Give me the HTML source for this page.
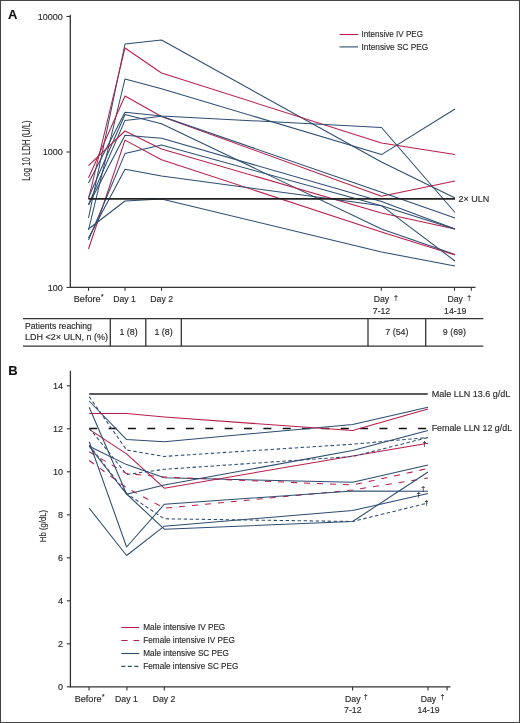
<!DOCTYPE html>
<html><head><meta charset="utf-8"><style>
html,body{margin:0;padding:0;background:#fff;}
svg{display:block;will-change:transform;}
text{font-family:"Liberation Sans",sans-serif;stroke:#2a2a2a;stroke-width:0.15px;}
</style></head><body>
<svg width="520" height="723" viewBox="0 0 520 723">
<rect x="0.5" y="0.5" width="519" height="722" fill="#fff" stroke="#444" stroke-width="1"/>
<text x="8" y="18.8" font-family="Liberation Sans, sans-serif" font-size="13" font-weight="bold" fill="#111" stroke="#111" stroke-width="0.5">A</text>
<path d="M70.3,14.8 V287.4 H475.5" fill="none" stroke="#333" stroke-width="1.3"/>
<path d="M66.5,16.5 H70" stroke="#333" stroke-width="1.1"/>
<text x="62.8" y="19.7" font-family="Liberation Sans, sans-serif" font-size="9" fill="#2a2a2a" text-anchor="end">10000</text>
<path d="M66.5,152 H70" stroke="#333" stroke-width="1.1"/>
<text x="62.8" y="155.2" font-family="Liberation Sans, sans-serif" font-size="9" fill="#2a2a2a" text-anchor="end">1000</text>
<path d="M66.5,287.4 H70" stroke="#333" stroke-width="1.1"/>
<text x="62.8" y="290.6" font-family="Liberation Sans, sans-serif" font-size="9" fill="#2a2a2a" text-anchor="end">100</text>
<path d="M88.5,287.4 V290.8" stroke="#333" stroke-width="1.1"/>
<path d="M125,287.4 V290.8" stroke="#333" stroke-width="1.1"/>
<path d="M161.5,287.4 V290.8" stroke="#333" stroke-width="1.1"/>
<path d="M381.3,287.4 V290.8" stroke="#333" stroke-width="1.1"/>
<path d="M454.5,287.4 V290.8" stroke="#333" stroke-width="1.1"/>
<path d="M471.3,287.4 V290.8" stroke="#333" stroke-width="1.1"/>
<text transform="translate(30,150.6) rotate(-90)" font-family="Liberation Sans, sans-serif" font-size="10" fill="#2a2a2a" text-anchor="middle" textLength="60.3" lengthAdjust="spacingAndGlyphs">Log 10 LDH (U/L)</text>
<text x="73.8" y="302.4" font-family="Liberation Sans, sans-serif" font-size="9.1" fill="#2a2a2a">Before<tspan font-size="6.5" dx="0.4" dy="-3">*</tspan></text>
<text x="124.5" y="302.3" font-family="Liberation Sans, sans-serif" font-size="8.7" fill="#2a2a2a" text-anchor="middle">Day 1</text>
<text x="161.7" y="302.3" font-family="Liberation Sans, sans-serif" font-size="8.7" fill="#2a2a2a" text-anchor="middle">Day 2</text>
<text x="381.5" y="302.4" font-family="Liberation Sans, sans-serif" font-size="8.7" fill="#2a2a2a" text-anchor="middle">Day</text>
<text x="381.5" y="313.7" font-family="Liberation Sans, sans-serif" font-size="8.7" fill="#2a2a2a" text-anchor="middle">7-12</text>
<text x="396" y="300" font-family="Liberation Sans, sans-serif" font-size="7" fill="#2a2a2a" text-anchor="middle">†</text>
<text x="455.2" y="302.4" font-family="Liberation Sans, sans-serif" font-size="8.7" fill="#2a2a2a" text-anchor="middle">Day</text>
<text x="455.2" y="313.7" font-family="Liberation Sans, sans-serif" font-size="8.7" fill="#2a2a2a" text-anchor="middle">14-19</text>
<text x="469.3" y="300" font-family="Liberation Sans, sans-serif" font-size="7" fill="#2a2a2a" text-anchor="middle">†</text>
<polyline points="88.5,218 125,44 161.5,40 381.5,162 455,198" fill="none" stroke="#2c4c72" stroke-width="1.05" stroke-linejoin="round"/>
<polyline points="88.5,199 125,48 161.5,73 381.5,143 455,154.5" fill="none" stroke="#b81e4a" stroke-width="1.05" stroke-linejoin="round"/>
<polyline points="88.5,230 125,79 161.5,88.7 381.5,154.6 455,109" fill="none" stroke="#2c4c72" stroke-width="1.05" stroke-linejoin="round"/>
<polyline points="88.5,178 125,96 161.5,116.5 381.5,196.3 455,181" fill="none" stroke="#b81e4a" stroke-width="1.05" stroke-linejoin="round"/>
<polyline points="88.5,183 125,112.3 161.5,116 381.5,127.5 455,212.5" fill="none" stroke="#2c4c72" stroke-width="1.05" stroke-linejoin="round"/>
<polyline points="88.5,204.5 125,120.4 161.5,116.3 381.5,192.2 455,218" fill="none" stroke="#2c4c72" stroke-width="1.05" stroke-linejoin="round"/>
<polyline points="88.5,197.5 125,114.5 161.5,123.7 381.5,229 455,254.5" fill="none" stroke="#2c4c72" stroke-width="1.05" stroke-linejoin="round"/>
<polyline points="88.5,165.7 125,131 161.5,149 381.5,213 455,229" fill="none" stroke="#b81e4a" stroke-width="1.05" stroke-linejoin="round"/>
<polyline points="88.5,205 125,135.3 161.5,138.2 381.5,201.5 455,229" fill="none" stroke="#2c4c72" stroke-width="1.05" stroke-linejoin="round"/>
<polyline points="88.5,249 125,140.1 161.5,159.8 381.5,232 455,255" fill="none" stroke="#b81e4a" stroke-width="1.05" stroke-linejoin="round"/>
<polyline points="88.5,240 125,153.6 161.5,144.9 381.5,205.7 455,261" fill="none" stroke="#2c4c72" stroke-width="1.05" stroke-linejoin="round"/>
<polyline points="88.5,238 125,169.3 161.5,176 381.5,205.7 455,229" fill="none" stroke="#2c4c72" stroke-width="1.05" stroke-linejoin="round"/>
<polyline points="88.5,229 125,201 161.5,199 381.5,252 455,266" fill="none" stroke="#2c4c72" stroke-width="1.05" stroke-linejoin="round"/>
<path d="M88.5,198.8 H455" stroke="#222" stroke-width="1.7"/>
<text x="458.6" y="201.7" font-family="Liberation Sans, sans-serif" font-size="9" fill="#2a2a2a">2× ULN</text>
<path d="M339.5,34.5 H358" stroke="#b81e4a" stroke-width="1.1"/>
<path d="M339.5,46.9 H358" stroke="#2c4c72" stroke-width="1.1"/>
<text x="361.5" y="37" font-family="Liberation Sans, sans-serif" font-size="8.7" fill="#2a2a2a" textLength="61.5" lengthAdjust="spacingAndGlyphs">Intensive IV PEG</text>
<text x="361.5" y="49.6" font-family="Liberation Sans, sans-serif" font-size="8.7" fill="#2a2a2a" textLength="66.8" lengthAdjust="spacingAndGlyphs">Intensive SC PEG</text>
<path d="M23,318.6 H483.3 M23,346.2 H483.3" stroke="#333" stroke-width="1.3"/>
<path d="M110.3,318.6 V346.2" stroke="#333" stroke-width="1.3"/>
<path d="M145.8,318.6 V346.2" stroke="#333" stroke-width="1.3"/>
<path d="M181.3,318.6 V346.2" stroke="#333" stroke-width="1.3"/>
<path d="M368,318.6 V346.2" stroke="#333" stroke-width="1.3"/>
<path d="M425.7,318.6 V346.2" stroke="#333" stroke-width="1.3"/>
<text x="25" y="328.9" font-family="Liberation Sans, sans-serif" font-size="9" fill="#2a2a2a" textLength="66.9" lengthAdjust="spacingAndGlyphs">Patients reaching</text>
<text x="25" y="339.5" font-family="Liberation Sans, sans-serif" font-size="9" fill="#2a2a2a" textLength="83" lengthAdjust="spacingAndGlyphs">LDH &lt;2× ULN, n (%)</text>
<text x="128.5" y="335.1" font-family="Liberation Sans, sans-serif" font-size="8.9" fill="#2a2a2a" text-anchor="middle">1 (8)</text>
<text x="163.5" y="335.1" font-family="Liberation Sans, sans-serif" font-size="8.9" fill="#2a2a2a" text-anchor="middle">1 (8)</text>
<text x="396.9" y="335.1" font-family="Liberation Sans, sans-serif" font-size="8.9" fill="#2a2a2a" text-anchor="middle">7 (54)</text>
<text x="454.4" y="335.1" font-family="Liberation Sans, sans-serif" font-size="8.9" fill="#2a2a2a" text-anchor="middle">9 (69)</text>
<text x="8.2" y="375.4" font-family="Liberation Sans, sans-serif" font-size="13" font-weight="bold" fill="#111" stroke="#111" stroke-width="0.5">B</text>
<path d="M70.4,370.8 V686.8 H450.5" fill="none" stroke="#333" stroke-width="1.3"/>
<path d="M66.8,686.8 H70.4" stroke="#333" stroke-width="1.1"/>
<text x="63" y="689.5" font-family="Liberation Sans, sans-serif" font-size="9" fill="#2a2a2a" text-anchor="end">0</text>
<path d="M66.8,643.8 H70.4" stroke="#333" stroke-width="1.1"/>
<text x="63" y="646.5" font-family="Liberation Sans, sans-serif" font-size="9" fill="#2a2a2a" text-anchor="end">2</text>
<path d="M66.8,600.8 H70.4" stroke="#333" stroke-width="1.1"/>
<text x="63" y="603.5" font-family="Liberation Sans, sans-serif" font-size="9" fill="#2a2a2a" text-anchor="end">4</text>
<path d="M66.8,557.8 H70.4" stroke="#333" stroke-width="1.1"/>
<text x="63" y="560.5" font-family="Liberation Sans, sans-serif" font-size="9" fill="#2a2a2a" text-anchor="end">6</text>
<path d="M66.8,514.8 H70.4" stroke="#333" stroke-width="1.1"/>
<text x="63" y="517.5" font-family="Liberation Sans, sans-serif" font-size="9" fill="#2a2a2a" text-anchor="end">8</text>
<path d="M66.8,471.8 H70.4" stroke="#333" stroke-width="1.1"/>
<text x="63" y="474.5" font-family="Liberation Sans, sans-serif" font-size="9" fill="#2a2a2a" text-anchor="end">10</text>
<path d="M66.8,428.8 H70.4" stroke="#333" stroke-width="1.1"/>
<text x="63" y="431.5" font-family="Liberation Sans, sans-serif" font-size="9" fill="#2a2a2a" text-anchor="end">12</text>
<path d="M66.8,385.8 H70.4" stroke="#333" stroke-width="1.1"/>
<text x="63" y="388.5" font-family="Liberation Sans, sans-serif" font-size="9" fill="#2a2a2a" text-anchor="end">14</text>
<path d="M89.1,686.8 V690.5" stroke="#333" stroke-width="1.1"/>
<path d="M126.9,686.8 V690.5" stroke="#333" stroke-width="1.1"/>
<path d="M164.3,686.8 V690.5" stroke="#333" stroke-width="1.1"/>
<path d="M352.6,686.8 V690.5" stroke="#333" stroke-width="1.1"/>
<path d="M428,686.8 V690.5" stroke="#333" stroke-width="1.1"/>
<path d="M447.1,686.8 V690.5" stroke="#333" stroke-width="1.1"/>
<text transform="translate(46,526) rotate(-90)" font-family="Liberation Sans, sans-serif" font-size="9" fill="#2a2a2a" text-anchor="middle" textLength="32.3" lengthAdjust="spacingAndGlyphs">Hb (g/dL)</text>
<text x="74.7" y="701.9" font-family="Liberation Sans, sans-serif" font-size="9.1" fill="#2a2a2a">Before<tspan font-size="6.5" dx="0.4" dy="-3">*</tspan></text>
<text x="126.4" y="701.8" font-family="Liberation Sans, sans-serif" font-size="8.7" fill="#2a2a2a" text-anchor="middle">Day 1</text>
<text x="164" y="701.8" font-family="Liberation Sans, sans-serif" font-size="8.7" fill="#2a2a2a" text-anchor="middle">Day 2</text>
<text x="352.8" y="701.6" font-family="Liberation Sans, sans-serif" font-size="8.7" fill="#2a2a2a" text-anchor="middle">Day</text>
<text x="352.8" y="712.8" font-family="Liberation Sans, sans-serif" font-size="8.7" fill="#2a2a2a" text-anchor="middle">7-12</text>
<text x="365.7" y="699" font-family="Liberation Sans, sans-serif" font-size="7" fill="#2a2a2a" text-anchor="middle">†</text>
<text x="428.5" y="701.6" font-family="Liberation Sans, sans-serif" font-size="8.7" fill="#2a2a2a" text-anchor="middle">Day</text>
<text x="428.5" y="712.8" font-family="Liberation Sans, sans-serif" font-size="8.7" fill="#2a2a2a" text-anchor="middle">14-19</text>
<text x="442.4" y="699" font-family="Liberation Sans, sans-serif" font-size="7" fill="#2a2a2a" text-anchor="middle">†</text>
<path d="M89.2,394.1 H427.7" stroke="#222" stroke-width="1.5"/>
<path d="M89.2,428.5 H427.1" stroke="#111" stroke-width="1.5" stroke-dasharray="8,11.35"/>
<text x="431.7" y="396.7" font-family="Liberation Sans, sans-serif" font-size="9" fill="#2a2a2a">Male LLN 13.6 g/dL</text>
<text x="431.7" y="430.7" font-family="Liberation Sans, sans-serif" font-size="8.9" fill="#2a2a2a">Female LLN 12 g/dL</text>
<polyline points="89.2,401 126.6,439.6 164.3,441.8 352.6,424.4 428,407.2" fill="none" stroke="#2c4c72" stroke-width="1.05" stroke-linejoin="round" />
<polyline points="89.2,396.6 126.6,450 164.3,456.4 352.6,444.2 428,437.5" fill="none" stroke="#2c4c72" stroke-width="1.05" stroke-linejoin="round" stroke-dasharray="3.5,2.5"/>
<polyline points="89.2,429.4 126.6,453.9 164.3,488.2 352.6,455.9 428,443.3" fill="none" stroke="#b81e4a" stroke-width="1.05" stroke-linejoin="round" />
<polyline points="89.2,446.2 126.6,464.6 164.3,477.8 352.6,482.3 428,465" fill="none" stroke="#2c4c72" stroke-width="1.05" stroke-linejoin="round" />
<polyline points="89.2,428 126.6,474.5 164.3,469.3 352.6,456.5 428,437.5" fill="none" stroke="#2c4c72" stroke-width="1.05" stroke-linejoin="round" stroke-dasharray="3.5,2.5"/>
<polyline points="89.2,451.8 126.6,473.6 164.3,477 352.6,485 428,468.5" fill="none" stroke="#b81e4a" stroke-width="1.05" stroke-linejoin="round" stroke-dasharray="6,7"/>
<polyline points="89.2,446.2 126.6,494.3 164.3,485 352.6,450.6 428,430.6" fill="none" stroke="#2c4c72" stroke-width="1.05" stroke-linejoin="round" />
<polyline points="89.2,460.5 126.6,487.8 164.3,508.2 352.6,490 428,478" fill="none" stroke="#b81e4a" stroke-width="1.05" stroke-linejoin="round" stroke-dasharray="6,7"/>
<polyline points="89.2,445 126.6,493.6 164.3,518.8 352.6,521.5 428,503" fill="none" stroke="#2c4c72" stroke-width="1.05" stroke-linejoin="round" stroke-dasharray="3.5,2.5"/>
<polyline points="89.2,441.8 126.6,547 164.3,504.3 352.6,491 428,491.2" fill="none" stroke="#2c4c72" stroke-width="1.05" stroke-linejoin="round" />
<polyline points="89.2,508.2 126.6,555.5 164.3,526.2 352.6,510.5 428,493.4" fill="none" stroke="#2c4c72" stroke-width="1.05" stroke-linejoin="round" />
<polyline points="89.2,407.3 126.6,494 164.3,529.2 352.6,521.5 428,472" fill="none" stroke="#2c4c72" stroke-width="1.05" stroke-linejoin="round" />
<polyline points="89.2,413.5 126.6,413.5 164.3,417 352.6,430.6 428,409" fill="none" stroke="#b81e4a" stroke-width="1.05" stroke-linejoin="round" />
<text x="423.3" y="490.5" font-family="Liberation Sans, sans-serif" font-size="7" fill="#222" text-anchor="middle">†</text>
<text x="418.7" y="497" font-family="Liberation Sans, sans-serif" font-size="7" fill="#222" text-anchor="middle">†</text>
<text x="426.4" y="504.5" font-family="Liberation Sans, sans-serif" font-size="7" fill="#222" text-anchor="middle">†</text>
<text x="424.4" y="445.5" font-family="Liberation Sans, sans-serif" font-size="7" fill="#222" text-anchor="middle">†</text>
<path d="M121.3,627.5 H139.2" stroke="#b81e4a" stroke-width="1.1"/>
<path d="M121.3,640.5 H139.2" stroke="#b81e4a" stroke-width="1.1" stroke-dasharray="6.4,5.8"/>
<path d="M121.3,653.5 H139.2" stroke="#2c4c72" stroke-width="1.1"/>
<path d="M121.3,666.4 H139.2" stroke="#2c4c72" stroke-width="1.1" stroke-dasharray="4,2.5"/>
<text x="143.3" y="630.1" font-family="Liberation Sans, sans-serif" font-size="8.2" fill="#2a2a2a">Male intensive IV PEG</text>
<text x="143.3" y="643.1" font-family="Liberation Sans, sans-serif" font-size="8.2" fill="#2a2a2a">Female intensive IV PEG</text>
<text x="143.3" y="656.1" font-family="Liberation Sans, sans-serif" font-size="8.2" fill="#2a2a2a">Male intensive SC PEG</text>
<text x="143.3" y="669" font-family="Liberation Sans, sans-serif" font-size="8.2" fill="#2a2a2a">Female intensive SC PEG</text>
</svg>
</body></html>
